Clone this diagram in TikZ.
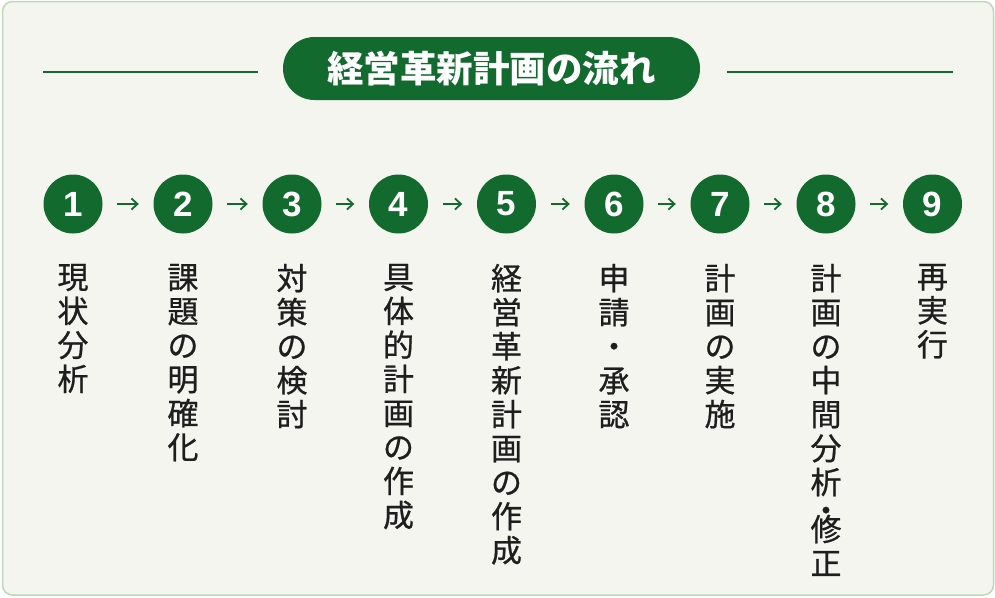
\documentclass[tikz,border=0pt]{standalone}
\usepackage{fontspec}
\setmainfont{Noto Sans CJK JP}
\newfontfamily\numfont{Liberation Sans}
\newfontfamily\labelfont{Noto Sans CJK JP}[FakeBold=0.7]
\usetikzlibrary{arrows.meta}
\usetikzlibrary{positioning}
\definecolor{leaf}{HTML}{136A2E}
\definecolor{paper}{HTML}{F4F5EF}
\definecolor{rim}{HTML}{BCDAB6}
\definecolor{ink}{HTML}{1E1E1E}
\tikzset{
	stepdot/.style={circle,fill=leaf,minimum size=59pt,inner sep=0pt,text=white,font=\numfont\bfseries\fontsize{35}{35}\selectfont},
	steptext/.style={anchor=north,align=center,inner sep=0pt,text=ink,font=\labelfont\fontsize{31}{34}\selectfont},
	flow/.style={leaf,line width=1.8pt,-{Straight Barb[length=6pt,width=11pt]},shorten <=14.5pt,shorten >=14.5pt},
	rule/.style={leaf,line width=1.6pt}
}

\begin{document}
\begin{tikzpicture}[x=1pt,y=-1pt]
				\useasboundingbox (0,0) rectangle (995,597);
				\draw[rim,fill=paper,line width=1.5pt,rounded corners=10pt] (2.5,1.5) rectangle (993.5,595);
				\node[fill=leaf,rounded corners=31.5pt,minimum width=417pt,minimum height=63pt,inner sep=0pt,text=white,font=\bfseries\fontsize{36.5}{36.5}\selectfont] (title) at (491.5,68.5) {経営革新計画の流れ};
				\coordinate (ruleLa) at (43,72);
				\coordinate (ruleLb) at (258,72);
				\coordinate (ruleRa) at (727,72);
				\coordinate (ruleRb) at (953,72);
				\draw[rule] (ruleLa) -- (ruleLb);
				\draw[rule] (ruleRa) -- (ruleRb);
				\foreach \n/\x in {1/73,2/183,3/292,4/398.5,5/506.5,6/614,7/720,8/826,9/932.5}
					\node[stepdot] (s\n) at (\x,204) {\n};
				\foreach \a/\b in {1/2,2/3,3/4,4/5,5/6,6/7,7/8,8/9}
					\draw[flow] (s\a) -- (s\b);
				\node[steptext,below=30pt of s1] (t1) {現\\状\\分\\析};
				\node[steptext,below=30pt of s2] (t2) {課\\題\\の\\明\\確\\化};
				\node[steptext,below=30pt of s3] (t3) {対\\策\\の\\検\\討};
				\node[steptext,below=30pt of s4] (t4) {具\\体\\的\\計\\画\\の\\作\\成};
				\node[steptext,below=30pt of s5] (t5) {経\\営\\革\\新\\計\\画\\の\\作\\成};
				\node[steptext,below=30pt of s6] (t6) {申\\請\\・\\承\\認};
				\node[steptext,below=30pt of s7] (t7) {計\\画\\の\\実\\施};
				\node[steptext,below=30pt of s8] (t8) {計\\画\\の\\中\\間\\分\\析\\[-6pt]・\\[-15pt]修\\正};
				\node[steptext,below=30pt of s9] (t9) {再\\実\\行};
\end{tikzpicture}
\end{document}
